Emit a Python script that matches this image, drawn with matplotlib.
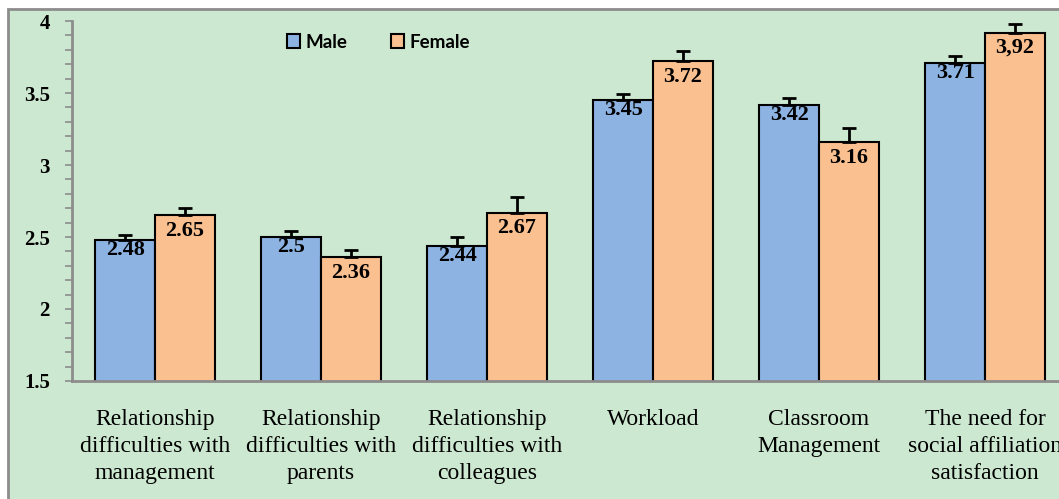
import matplotlib.pyplot as plt
import numpy as np
from matplotlib.patches import Rectangle

# data
categories = ['Relationship\ndifficulties with\nmanagement',
              'Relationship\ndifficulties with\nparents',
              'Relationship\ndifficulties with\ncolleagues',
              'Workload',
              'Classroom\nManagement',
              'The need for\nsocial affiliation\nsatisfaction']
male = [2.48, 2.50, 2.44, 3.45, 3.42, 3.71]
female = [2.65, 2.36, 2.67, 3.72, 3.16, 3.92]
male_err = [0.035, 0.04, 0.06, 0.04, 0.045, 0.045]
female_err = [0.05, 0.05, 0.11, 0.07, 0.10, 0.06]
male_labels = ['2.48', '2.5', '2.44', '3.45', '3.42', '3.71']
female_labels = ['2.65', '2.36', '2.67', '3.72', '3.16', '3,92']

bg = '#CDE8D1'
serif = ['Liberation Serif', 'DejaVu Serif']

fig = plt.figure(figsize=(10.59, 4.99), dpi=100, facecolor='white')

# chart area box (runs off the right/bottom edge like the screenshot)
fig.patches.append(Rectangle((8 / 1059, -0.05), 1.1, 1 - 9 / 499 + 0.05,
                             transform=fig.transFigure, facecolor=bg,
                             edgecolor='#8C8C8C', lw=2, zorder=-1))

ax = fig.add_axes([72 / 1059, 1 - 381 / 499, 996 / 1059, 360 / 499])
ax.set_facecolor(bg)

x = np.arange(len(categories))
w = 0.36
ax.bar(x - w / 2, male, w, color='#8DB3E2', edgecolor='black', lw=1.5,
       label='Male', zorder=2)
ax.bar(x + w / 2, female, w, color='#FAC090', edgecolor='black', lw=1.5,
       label='Female', zorder=2)
ax.errorbar(x - w / 2, male, yerr=[np.zeros(len(male)), male_err], fmt='none',
            ecolor='black', elinewidth=2, capsize=5, capthick=2, zorder=3)
ax.errorbar(x + w / 2, female, yerr=[np.zeros(len(female)), female_err], fmt='none',
            ecolor='black', elinewidth=2, capsize=5, capthick=2, zorder=3)

for xi, v, t in zip(x - w / 2, male, male_labels):
    ax.annotate(t, (xi, v), xytext=(0, 0), textcoords='offset points',
                ha='center', va='top', fontsize=16, fontweight='bold',
                family=serif, zorder=4)
for xi, v, t in zip(x + w / 2, female, female_labels):
    ax.annotate(t, (xi, v), xytext=(0, -4), textcoords='offset points',
                ha='center', va='top', fontsize=16, fontweight='bold',
                family=serif, zorder=4)

ax.set_xlim(-0.5, len(categories) - 0.5)
ax.set_ylim(1.5, 4)
ax.set_yticks([1.5, 2, 2.5, 3, 3.5, 4])
ax.set_yticklabels(['1.5', '2', '2.5', '3', '3.5', '4'], fontsize=15,
                   fontweight='bold', family=serif)
ax.set_yticks(np.arange(1.5, 4.01, 0.1), minor=True)
ax.tick_params(axis='y', which='both', direction='out', length=5, width=1.2,
               color='#8C8C8C', pad=11)
ax.set_xticks(x)
ax.set_xticklabels(categories, fontsize=17, family=serif, linespacing=1.38)
ax.tick_params(axis='x', length=0, pad=20)

for s in ['top', 'right']:
    ax.spines[s].set_visible(False)
for s in ['left', 'bottom']:
    ax.spines[s].set_color('#8C8C8C')
    ax.spines[s].set_linewidth(2)

leg = ax.legend(loc='upper left', bbox_to_anchor=(0.199, 1.012), ncol=2, frameon=False,
                prop={'family': 'Lato', 'weight': 'bold', 'size': 13.5},
                handlelength=0.7, handleheight=0.7, handletextpad=0.3,
                columnspacing=2.3)

fig.savefig('out.png', dpi=100, facecolor='white')
